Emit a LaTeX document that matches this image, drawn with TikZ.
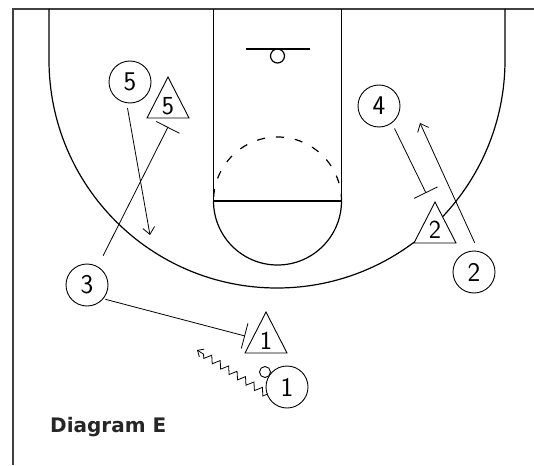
\documentclass[tikz,border=0pt]{standalone}
\usepackage{fontspec}
\newfontfamily\titlefont{DejaVu Sans}
\usetikzlibrary{arrows.meta,decorations.pathmorphing}

\begin{document}
\begin{tikzpicture}[x=1pt,y=-1pt,
  court/.style={line width=1.2pt},
  player/.style={circle,draw,fill=white,line width=0.9pt,minimum size=42pt,inner sep=0pt,font=\fontsize{27}{27}\sffamily},
  ball/.style={circle,draw,fill=white,line width=0.9pt,minimum size=11pt,inner sep=0pt},
  defense/.style={draw,fill=white,line width=0.9pt},
  num/.style={inner sep=0pt,font=\fontsize{26}{26}\sffamily},
  move/.style={line width=0.8pt},
  cut/.style={move,-{Straight Barb[length=7pt,width=12pt]}},
  screen/.style={move,-{Bar[width=26pt,line width=0.8pt]}},
  dribble/.style={move,decorate,decoration={zigzag,amplitude=3.5pt,segment length=10pt,post length=5pt},-{Straight Barb[length=5pt,width=9pt]}}]
\useasboundingbox (0,0) rectangle (534,465);
% court
\draw[line width=1.6pt,black!75] (534,9) -- (13,9) -- (13,465);
\draw[court] (49,9) -- (49,60) arc[start angle=180,end angle=0,radius=228] -- (505,9);
\draw[court] (213.5,9) -- (213.5,201) -- (341.5,201) -- (341.5,9);
\draw[court] (213.5,201) arc[start angle=180,end angle=0,radius=64];
\draw[court,dash pattern=on 8pt off 11pt,dash phase=-4pt] (213.5,201) arc[start angle=180,end angle=360,radius=64];
\draw[court] (246,49) -- (310,49);
\draw[court] (277.5,56) circle[radius=7];

% offense
\node[player] (p5) at (130,82) {5};
\node[player] (p4) at (379,106) {4};
\node[player] (p2) at (474,272) {2};
\node[player] (p3) at (87,285) {3};
\node[player] (p1) at (287,387) {1};
\node[ball] (b1) at (265,372) {};

% defense
\draw[defense] (147,118) -- (168,77) -- (189,118) -- cycle;
\node[num] (x5) at (168,106) {5};
\draw[defense] (414,243) -- (435,202) -- (456,243) -- cycle;
\node[num] (x2) at (435,230) {2};
\draw[defense] (245,353) -- (266,312) -- (287,353) -- cycle;
\node[num] (x1) at (266,341) {1};

% movement
\coordinate (c5) at (150,235);
\coordinate (s5) at (168,127);
\coordinate (s4) at (426,193);
\coordinate (c2) at (420,123);
\coordinate (s1) at (245,336);
\coordinate (d1) at (197,350);
\draw[cut,shorten <=5pt] (p5.261) -- (c5);
\draw[screen,shorten <=12pt] (p3.60) -- (s5);
\draw[screen,shorten <=6pt] (p4.307) -- (s4);
\draw[cut,shorten <=9pt] (p2.78) -- (c2);
\draw[screen,shorten <=2pt] (p3.320) -- (s1);
\draw[dribble] (p1.200) -- (d1);

\node[anchor=base west,inner sep=0pt,font=\fontsize{20}{20}\titlefont\bfseries,text=black!85] (title) at (50,432) {Diagram E};
\end{tikzpicture}
\end{document}
